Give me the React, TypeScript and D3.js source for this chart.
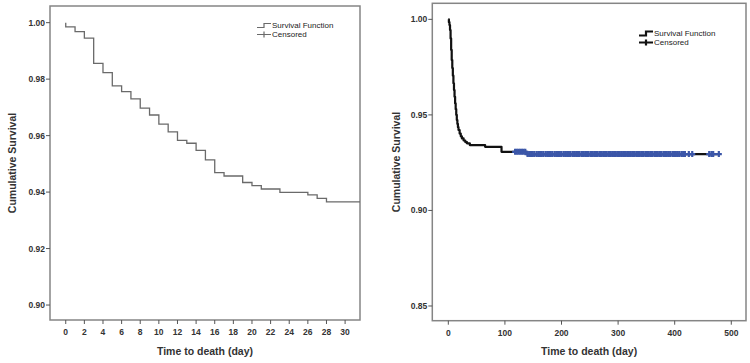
import { useEffect, useRef } from 'react';
import * as d3 from 'd3';

// Panel A: first 30 days, Kaplan-Meier step estimates (day of event, survival after it)
const shortDays = [0, 1, 2, 3, 4, 5, 6, 7, 8, 9, 10, 11, 12, 13, 14, 15, 16, 17, 19, 20, 21, 23, 26, 27, 28];
const shortSurvival = [
  0.9985, 0.9968, 0.9945, 0.9856, 0.9823, 0.9776, 0.9756, 0.973, 0.9697, 0.9673, 0.9641, 0.9613, 0.9583,
  0.9573, 0.9548, 0.9514, 0.9469, 0.9457, 0.9434, 0.9423, 0.9411, 0.9399, 0.939, 0.9378, 0.9365,
];
const shortTicksX = [0, 2, 4, 6, 8, 10, 12, 14, 16, 18, 20, 22, 24, 26, 28, 30];
const shortTicksY = [0.9, 0.92, 0.94, 0.96, 0.98, 1.0];

// Panel B: full follow-up
const longDays = [0, 1, 2, 3, 4, 5, 6, 7, 8, 9, 10, 11, 12, 13, 14, 15, 16, 17, 18, 20, 22, 24, 27, 30, 33, 38, 65, 94, 139];
const longSurvival = [
  1.0, 0.9985, 0.997, 0.9944, 0.99, 0.984, 0.9787, 0.9745, 0.9705, 0.9665, 0.963, 0.9595, 0.956, 0.953,
  0.95, 0.9473, 0.9453, 0.9436, 0.9421, 0.9402, 0.9388, 0.9377, 0.9366, 0.9358, 0.9351, 0.9342, 0.9333,
  0.9307, 0.9295,
];
const censoredDays = [
  118, 121, 124, 127, 130, 133, 136, 140, 143, 146, 149, 152, 156, 159, 162, 165, 168, 172, 175, 178, 181,
  184, 188, 191, 194, 197, 200, 204, 207, 210, 213, 216, 220, 223, 226, 229, 232, 236, 239, 242, 245, 248,
  252, 255, 258, 261, 264, 268, 271, 274, 277, 280, 284, 287, 290, 293, 296, 300, 303, 306, 309, 312, 316,
  319, 322, 325, 328, 332, 335, 338, 341, 344, 348, 351, 354, 357, 360, 364, 367, 370, 373, 376, 380, 383,
  386, 389, 392, 396, 399, 402, 405, 408, 412, 415, 418, 425, 431, 461, 465, 468, 478,
];
const longTicksX = [0, 100, 200, 300, 400, 500];
const longTicksY = [0.85, 0.9, 0.95, 1.0];

const legendLabels = ['Survival Function', 'Censored'];

const FONT = "'Liberation Sans', Arial, sans-serif";

type PanelOpts = {
  x: d3.ScaleLinear<number, number>;
  y: d3.ScaleLinear<number, number>;
  ticksX: number[];
  ticksY: number[];
  yFmt: (v: number) => string;
  titleX: number;
  legend: { x: number; y: number };
  lineColor: string;
  lineWidth: number;
};

function drawPanel(svg: d3.Selection<SVGSVGElement, unknown, null, undefined>, o: PanelOpts) {
  const [x0, x1] = o.x.range();
  const [y0, y1] = o.y.range(); // y0 bottom, y1 top
  const g = svg.append('g');

  // frame
  g.append('rect')
    .attr('x', x0).attr('y', y1)
    .attr('width', x1 - x0).attr('height', y0 - y1)
    .attr('fill', 'none').attr('stroke', '#858585').attr('stroke-width', 1.5);

  // y ticks
  const yt = g.append('g');
  yt.selectAll('line').data(o.ticksY).join('line')
    .attr('x1', x0 - 4).attr('x2', x0)
    .attr('y1', d => o.y(d)).attr('y2', d => o.y(d))
    .attr('stroke', '#555').attr('stroke-width', 1);
  yt.selectAll('text').data(o.ticksY).join('text')
    .attr('x', x0 - 5).attr('y', d => o.y(d)).attr('dy', '0.35em')
    .attr('text-anchor', 'end')
    .attr('font-size', 8.5).attr('font-weight', 700).attr('fill', '#333')
    .text(o.yFmt);

  // x ticks
  const xt = g.append('g');
  xt.selectAll('line').data(o.ticksX).join('line')
    .attr('x1', d => o.x(d)).attr('x2', d => o.x(d))
    .attr('y1', y0).attr('y2', y0 + 4)
    .attr('stroke', '#555').attr('stroke-width', 1);
  xt.selectAll('text').data(o.ticksX).join('text')
    .attr('x', d => o.x(d)).attr('y', y0 + 15)
    .attr('text-anchor', 'middle')
    .attr('font-size', 8.5).attr('font-weight', 700).attr('fill', '#333')
    .text(d => String(d));

  // axis titles
  g.append('text')
    .attr('x', (x0 + x1) / 2).attr('y', 355)
    .attr('text-anchor', 'middle')
    .attr('font-size', 10.5).attr('font-weight', 700).attr('fill', '#333')
    .text('Time to death (day)');
  g.append('text')
    .attr('transform', `translate(${o.titleX},${(y0 + y1) / 2}) rotate(-90)`)
    .attr('dy', '0.35em')
    .attr('text-anchor', 'middle')
    .attr('font-size', 10.5).attr('font-weight', 700).attr('fill', '#333')
    .text('Cumulative Survival');

  // legend
  const lg = g.append('g').attr('transform', `translate(${o.legend.x},${o.legend.y})`);
  lg.append('path')
    .attr('d', 'M0,2H7V-2H14')
    .attr('fill', 'none').attr('stroke', o.lineColor).attr('stroke-width', o.lineWidth);
  lg.append('path')
    .attr('d', 'M0,9H14M7,6V12')
    .attr('fill', 'none').attr('stroke', o.lineColor).attr('stroke-width', o.lineWidth);
  lg.selectAll('text').data(legendLabels).join('text')
    .attr('x', 15).attr('y', (_, i) => i * 9).attr('dy', '0.35em')
    .attr('font-size', 8).attr('fill', '#222')
    .text(d => d);

  return g;
}

function stepPoints(days: number[], surv: number[], end: number, startAtOne: boolean): [number, number][] {
  const pts: [number, number][] = startAtOne ? [[0, 1]] : [];
  days.forEach((d, i) => pts.push([d, surv[i]]));
  pts.push([end, surv[surv.length - 1]]);
  return pts;
}

export default function App() {
  const svgRef = useRef<SVGSVGElement>(null);

  useEffect(() => {
    if (!svgRef.current) return;
    const svg = d3.select(svgRef.current);
    svg.selectAll('*').remove();
    svg.attr('font-family', FONT);

    // ---- left panel ----
    const xA = d3.scaleLinear().domain([-1.69, 31.6]).range([50, 360]);
    const yA = d3.scaleLinear().domain([0.8947, 1.0059]).range([320, 6]);
    const gA = drawPanel(svg, {
      x: xA, y: yA, ticksX: shortTicksX, ticksY: shortTicksY,
      yFmt: d3.format('.2f'), titleX: 12,
      legend: { x: 257, y: 25.5 }, lineColor: '#6a6a6a', lineWidth: 1.2,
    });
    const lineA = d3.line<[number, number]>()
      .x(d => xA(d[0])).y(d => yA(d[1]))
      .curve(d3.curveStepAfter);
    gA.append('path')
      .attr('d', lineA(stepPoints(shortDays, shortSurvival, xA.domain()[1], true)))
      .attr('fill', 'none').attr('stroke', '#6a6a6a').attr('stroke-width', 1.3);

    // ---- right panel ----
    const xB = d3.scaleLinear().domain([-28.3, 526]).range([432.3, 746]);
    const yB = d3.scaleLinear().domain([0.8423, 1.0084]).range([320.7, 3.3]);
    const gB = drawPanel(svg, {
      x: xB, y: yB, ticksX: longTicksX, ticksY: longTicksY,
      yFmt: d3.format('.2f'), titleX: 396,
      legend: { x: 639, y: 33.5 }, lineColor: '#111', lineWidth: 2.2,
    });
    const lastCensored = d3.max(censoredDays) ?? 0;
    const lineB = d3.line<[number, number]>()
      .x(d => xB(d[0])).y(d => yB(d[1]))
      .curve(d3.curveStepAfter);
    gB.append('path')
      .attr('d', lineB(stepPoints(longDays, longSurvival, lastCensored, false)))
      .attr('fill', 'none').attr('stroke', '#111').attr('stroke-width', 2.2)
      .attr('stroke-linejoin', 'round');

    // survival level at a given day, used to place censored marks on the curve
    const survAt = (t: number) => {
      const i = d3.bisectRight(longDays, t) - 1;
      return longSurvival[Math.max(0, i)];
    };
    gB.append('g').selectAll('path').data(censoredDays).join('path')
      .attr('d', d => {
        const cx = xB(d), cy = yB(survAt(d));
        return `M${cx - 3},${cy}H${cx + 3}M${cx},${cy - 3}V${cy + 3}`;
      })
      .attr('fill', 'none').attr('stroke', '#3b56a8').attr('stroke-width', 2.2);
  }, []);

  return (
    <svg
      ref={svgRef}
      width={750}
      height={363}
      style={{ position: 'absolute', left: 0, top: 0, background: '#fff' }}
    />
  );
}
